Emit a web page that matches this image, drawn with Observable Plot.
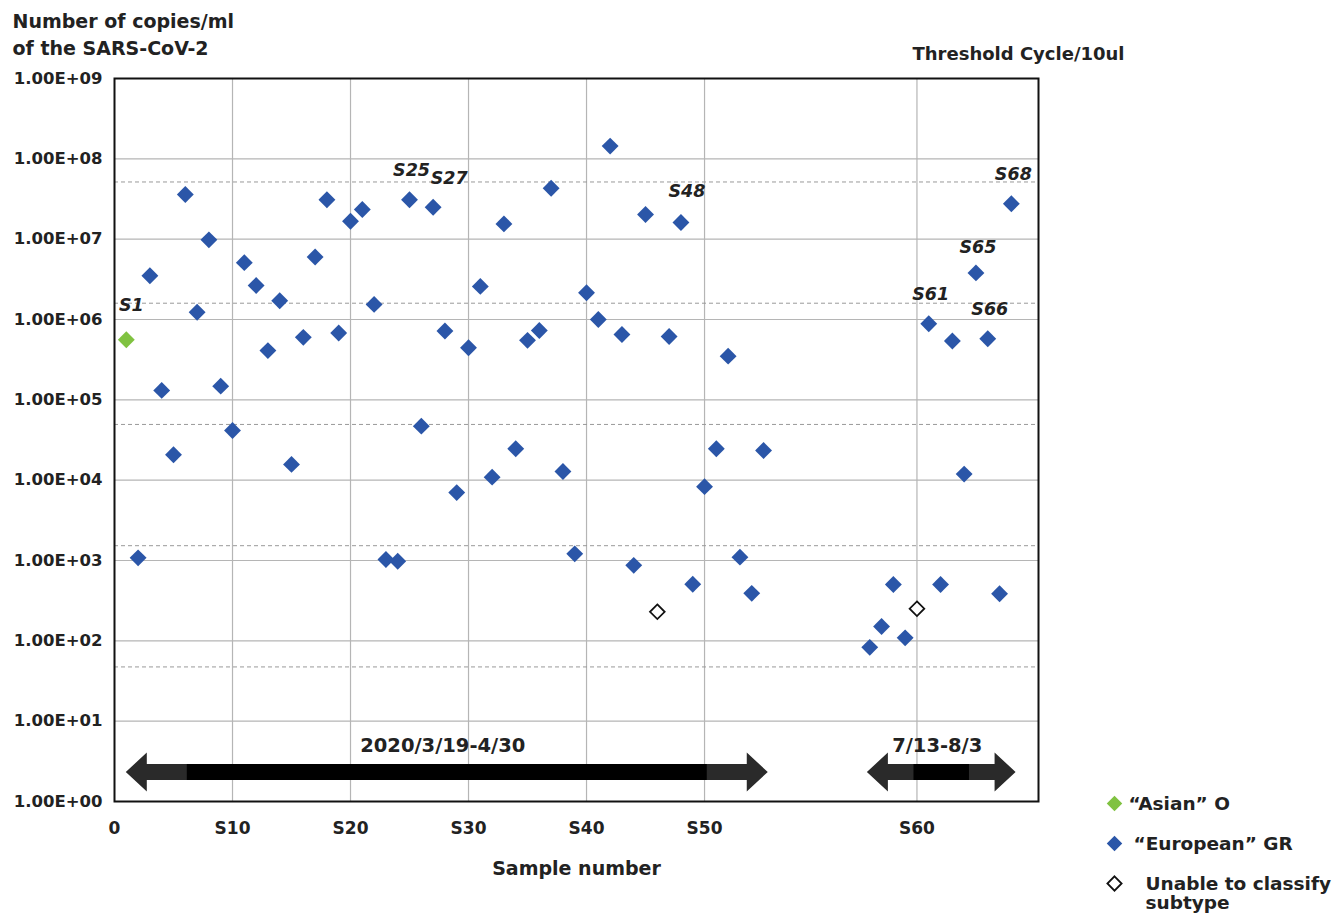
<!DOCTYPE html>
<html>
<head>
<meta charset="utf-8">
<script src="https://cdn.jsdelivr.net/npm/d3@7"></script>
<script src="https://cdn.jsdelivr.net/npm/@observablehq/plot@0.6"></script>
<style>
  body { margin: 0; background: #fff; }
  #chart svg { display: block; }
</style>
</head>
<body>
<div id="chart"></div>
<script>
// ---------- data ----------
const sampleIds = d3.range(1, 69);
const copies = [
  5.6e5, 1.08e3, 3.5e6, 1.31e5, 2.07e4, 3.6e7, 1.23e6, 9.8e6, 1.48e5, 4.15e4,
  5.1e6, 2.65e6, 4.1e5, 1.71e6, 1.57e4, 6.0e5, 6.0e6, 3.1e7, 6.8e5, 1.67e7,
  2.34e7, 1.54e6, 1.03e3, 9.8e2, 3.1e7, 4.7e4, 2.5e7, 7.2e5, 7.0e3, 4.45e5,
  2.58e6, 1.09e4, 1.55e7, 2.46e4, 5.5e5, 7.3e5, 4.3e7, 1.28e4, 1.21e3, 2.15e6,
  1.0e6, 1.44e8, 6.5e5, 8.7e2, 2.03e7, 2.3e2, 6.15e5, 1.61e7, 5.07e2, 8.3e3,
  2.46e4, 3.5e5, 1.1e3, 3.9e2, 2.34e4,
  83, 151, 503, 109, 251, 8.85e5, 503, 5.4e5, 1.19e4, 3.8e6, 5.75e5, 385, 2.76e7
];
const asianSamples = [1];
const unclassifiedSamples = [46, 60];
const labeledSamples = [1, 25, 27, 48, 61, 65, 66, 68];

const periodLabels = ["2020/3/19-4/30", "7/13-8/3"];
const periodStart = [1.0, 55.8];
const periodEnd = [55.4, 68.4];

const yTicks = [1, 10, 1e2, 1e3, 1e4, 1e5, 1e6, 1e7, 1e8, 1e9];
const ctTicks = [15, 20, 25, 30, 35];
const xTickSamples = [0, 10, 20, 30, 40, 50, 60];
const xTickLabels = ["0", "S10", "S20", "S30", "S40", "S50", "S60"];

const legendLabels = ["\u201CAsian\u201D O", "\u201CEuropean\u201D GR", "Unable to classify\nsubtype"];

// ---------- mappings ----------
// gap in the sample axis between the two collection periods
const pos = s => (s > 55.5 ? s + 8 : s);
// Ct <-> copies calibration of the secondary axis
const ctRef = 15, logAtRef = 7.712, ctPerDecade = 3.313;
const copiesFromCt = ct => Math.pow(10, logAtRef - (ct - ctRef) / ctPerDecade);
const ctFromCopies = c => ctRef + ctPerDecade * (logAtRef - Math.log10(c));

const samples = sampleIds.map((id, i) => ({
  id,
  x: pos(id),
  copies: copies[i],
  subtype: asianSamples.includes(id) ? "O" : unclassifiedSamples.includes(id) ? "U" : "GR"
}));
const labelOffsets = { 1: [5, -34], 27: [16, -29], 48: [6, -31], 65: [2, -26] };

const BLUE = "#2b56a8", GREEN = "#80c241";
const FONT = "'DejaVu Sans', sans-serif";
const xTickMap = new Map(xTickSamples.map((s, i) => [pos(s), xTickLabels[i]]));

function periodArrows(index, scales, values, dimensions) {
  const g = d3.create("svg:g");
  const yc = dimensions.height - dimensions.marginBottom - 29;
  const hl = 21, hh = 19.5, sh = 8;
  periodLabels.forEach((label, i) => {
    const x0 = scales.x(pos(periodStart[i]));
    const x1 = scales.x(pos(periodEnd[i]));
    const pts = [
      [x0, yc], [x0 + hl, yc - hh], [x0 + hl, yc - sh], [x1 - hl, yc - sh],
      [x1 - hl, yc - hh], [x1, yc], [x1 - hl, yc + hh], [x1 - hl, yc + sh],
      [x0 + hl, yc + sh], [x0 + hl, yc + hh]
    ];
    g.append("path").attr("d", "M" + pts.join("L") + "Z").attr("fill", "#2a2a2a");
    const shaft = x1 - x0 - 2 * hl;
    const gray = Math.min(40, shaft * 0.24);
    g.append("rect")
      .attr("x", x0 + hl + gray).attr("y", yc - sh)
      .attr("width", shaft - 2 * gray).attr("height", 2 * sh)
      .attr("fill", "#000");
    g.append("text")
      .attr("x", (x0 + x1) / 2 - 4).attr("y", yc - 27)
      .attr("text-anchor", "middle").attr("dominant-baseline", "central")
      .attr("font-family", FONT).attr("font-weight", "bold").attr("font-size", 19.5)
      .attr("fill", "#222")
      .text(label);
  });
  return g.node();
}

const legendStyle = [
  { fill: GREEN, stroke: "none", dy: 2, tdx: 90 },
  { fill: BLUE, stroke: "none", dy: 42, tdx: 95 },
  { fill: "white", stroke: "#111", dy: 82, tdx: 107 }
];

const legendMarks = legendLabels.flatMap((label, i) => {
  const s = legendStyle[i];
  return [
    Plot.dot([0], { frameAnchor: "bottom-right", dx: 76, dy: s.dy, symbol: "diamond2", r: i === 2 ? 6.4 : 7,
      fill: s.fill, stroke: s.stroke, strokeWidth: 1.8 }),
    Plot.text([label], { frameAnchor: "bottom-right", dx: s.tdx, dy: s.dy + (i === 2 ? 10 : 0),
      textAnchor: "start", lineAnchor: "middle", lineHeight: 1.05,
      fontFamily: FONT, fontWeight: "bold", fontSize: 18.5, fill: "#222" })
  ];
});

const chart = Plot.plot({
  width: 1339,
  height: 913,
  marginLeft: 114,
  marginRight: 301,
  marginTop: 78,
  marginBottom: 112,
  style: { fontFamily: FONT, background: "#fff", overflow: "visible" },
  x: { type: "linear", domain: [0, 78.3], axis: null },
  y: { type: "log", domain: [1, 1e9], axis: null },
  marks: [
    Plot.gridY({ ticks: yTicks.slice(1, -1), stroke: "#b5b5b5", strokeOpacity: 1, strokeWidth: 1.2 }),
    Plot.gridX({ ticks: xTickSamples.slice(1).map(pos), stroke: "#b5b5b5", strokeOpacity: 1, strokeWidth: 1.2 }),
    Plot.ruleY(ctTicks.map(copiesFromCt), { stroke: "#999", strokeDasharray: "4,3", strokeWidth: 1 }),
    Plot.frame({ stroke: "#111", strokeWidth: 2 }),
    Plot.axisY({ ticks: yTicks, tickSize: 0, tickPadding: 12, label: null,
      tickFormat: d => "1.00E+" + String(Math.round(Math.log10(d))).padStart(2, "0"),
      fontSize: 16.5, fontWeight: "bold", fontFamily: FONT, fill: "#222" }),
    Plot.axisY({ anchor: "right", ticks: ctTicks.map(copiesFromCt), tickSize: 0, tickPadding: 10, label: null,
      tickFormat: d => String(Math.round(ctFromCopies(d))),
      fontSize: 16.5, fontWeight: "bold", fontFamily: FONT, fill: "#222" }),
    Plot.axisX({ ticks: xTickSamples.map(pos), tickSize: 0, tickPadding: 20, label: null,
      tickFormat: d => xTickMap.get(d),
      fontSize: 17, fontWeight: "bold", fontFamily: FONT, fill: "#222" }),
    periodArrows,
    Plot.dot(samples.filter(d => d.subtype === "GR"), { x: "x", y: "copies", symbol: "diamond2", r: 7.6, fill: BLUE }),
    Plot.dot(samples.filter(d => d.subtype === "O"), { x: "x", y: "copies", symbol: "diamond2", r: 7.6, fill: GREEN }),
    Plot.dot(samples.filter(d => d.subtype === "U"), { x: "x", y: "copies", symbol: "diamond2", r: 6.6,
      fill: "white", stroke: "#111", strokeWidth: 1.8 }),
    ...labeledSamples.map(id => {
      const d = samples[id - 1];
      const [dx, dy] = labelOffsets[id] || [2, -29];
      return Plot.text([d], { x: "x", y: "copies", text: d => "S" + d.id, dx, dy,
        fontStyle: "italic", fontWeight: "bold", fontSize: 17.5, fontFamily: FONT, fill: "#222" });
    }),
    Plot.text(["Number of copies/ml\nof the SARS-CoV-2"], { frameAnchor: "top-left", dx: -102, dy: -45.5,
      textAnchor: "start", lineAnchor: "middle", lineHeight: 1.42,
      fontWeight: "bold", fontSize: 19, fontFamily: FONT, fill: "#222" }),
    Plot.text(["Threshold Cycle/10ul"], { frameAnchor: "top-right", dx: -126, dy: -24,
      textAnchor: "start", lineAnchor: "middle",
      fontWeight: "bold", fontSize: 18, fontFamily: FONT, fill: "#222" }),
    Plot.text(["Sample number"], { frameAnchor: "bottom", dy: 67, lineAnchor: "middle",
      fontWeight: "bold", fontSize: 19, fontFamily: FONT, fill: "#222" }),
    ...legendMarks
  ]
});
document.getElementById("chart").append(chart);
</script>
</body>
</html>
